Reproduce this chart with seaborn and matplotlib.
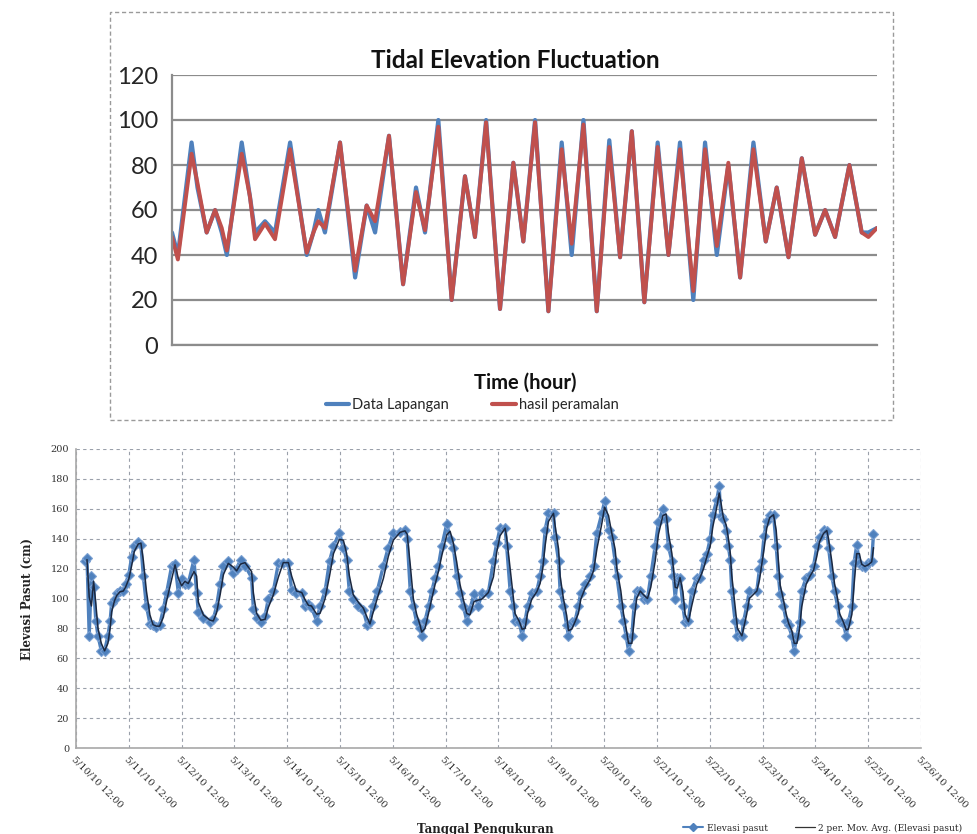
import numpy as np
import pandas as pd
import seaborn as sns
import matplotlib.pyplot as plt
from matplotlib.patches import Rectangle
from matplotlib.lines import Line2D

sns.set_theme(style="white")
plt.rcParams['font.family'] = ['DejaVu Sans']

# ---------------- Top chart data (hours, elevation) ----------------
top_hours = [0, 3, 10, 13, 17.7, 22, 25.4, 28, 35.6, 39.8, 42.4, 47.5, 52.6, 60.3,
             68.8, 72.2, 74.7, 78.1, 85.8, 93.5, 99.4, 103.7, 110.8, 118, 124.6,
             129.2, 136, 142.8, 149.6, 154.7, 160.4, 167.5, 174.3, 179.4, 185.4,
             192.2, 199, 204.1, 210.1, 216.9, 223.3, 228.8, 234.8, 241.2, 248,
             253.5, 259.4, 266.2, 272.2, 278.2, 284.1, 290.1, 296.9, 303.2, 308.8,
             314.8, 321.6, 328.4, 333.5, 338.6, 345.9, 352.2, 355.6, 360]
data_lapangan = [50, 40, 90, 70, 50, 60, 50, 40, 90, 66, 50, 55, 50, 90,
                 40, 50, 60, 50, 90, 30, 62, 50, 93, 27, 70,
                 50, 100, 20, 75, 48, 100, 16, 81, 46, 100,
                 15, 90, 40, 100, 15, 91, 39, 95, 19, 90,
                 40, 90, 20, 90, 40, 80, 30, 90, 46, 70,
                 39, 83, 49, 60, 48, 80, 50, 50, 52]
hasil_peramalan = [48, 38, 85, 72, 50, 60, 52, 42, 85, 66, 47, 54, 47, 87,
                   41, 50, 55, 52, 90, 33, 62, 55, 93, 27, 68,
                   51, 97, 20, 75, 48, 99, 16, 81, 46, 99,
                   15, 87, 45, 98, 15, 88, 39, 95, 19, 88,
                   40, 87, 24, 87, 44, 81, 30, 87, 46, 70,
                   39, 83, 49, 60, 48, 80, 50, 48, 52]

# ---------------- Bottom chart data (hours from 5/10/10 12:00) ----------------
bot_hours = [4, 5, 6, 7, 8, 9, 10, 11.5, 13, 14.5, 15.5, 16.2, 17.5, 18.5, 20, 21.5,
             22.5, 24, 25.3, 26.5, 28.3, 29.5, 30.6, 32, 33.6, 35, 36.5, 38, 39.7,
             41.2, 43.5, 45, 46.5, 48, 49.5, 51, 53.6, 54.8, 55.6, 57.9, 60.9, 62.4,
             63.9, 65.5, 67, 69.2, 71.5, 73, 74.8, 76.8, 79.8, 80.6, 82.1, 84, 85.9,
             87.4, 89.7, 92, 94.2, 96.5, 98, 100.2, 102.6, 104, 105.6, 107, 109.4,
             110.9, 113.2, 115.2, 117, 119.7, 121.5, 123, 124.2, 126, 128.3, 130.6,
             132.4, 133.6, 134.8, 136.9, 139.7, 141.9, 144.2, 147.3, 149.5, 150.5,
             151.9, 153.3, 154.8, 156.4, 157.1, 158.6, 160.2, 161.7, 163.2, 164.7,
             166.2, 168.5, 170, 171.5, 173, 174.5, 176, 177.6, 179, 180.9, 182.9,
             184.4, 187.4, 189.7, 191.2, 192.7, 195, 195.7, 197.3, 198.8, 199.5,
             201.5, 202.7, 204.1, 205.2, 207.1, 209.4, 210.9, 212.1, 213.2, 214.7,
             217, 217.7, 219.3, 220, 221.5, 223, 223.8, 225.3, 226.8, 228.3, 229.4,
             231.4, 233.6, 235.2, 236.7, 239, 240.2, 242, 243.5, 245, 245.8, 247.6,
             248.8, 250, 251.1, 252.6, 253.6, 254.8, 256.4, 257.9, 259.7, 261.2,
             263.2, 264.7, 266.7, 268.2, 269.2, 270.8, 271.5, 272.3, 273.3, 274.5,
             275.8, 276.8, 278.3, 279.8, 282.1, 283.6, 285.2, 286.7, 288.2, 289.4,
             291.2, 292.3, 293, 294.2, 295.5, 296.5, 297.3, 298, 299.5, 300.6, 302.6,
             303.3, 304.8, 306, 309.4, 310.6, 311.6, 312.7, 313.9, 315.2, 317, 318.2,
             319.2, 320, 321.5, 322.7, 323.8, 325.3, 326.4, 327.6, 328.8, 329.8,
             331.8, 333.6, 335.2, 336.7, 337.9, 339.7, 341.2, 342, 343.5, 344.7,
             346.1, 347, 348.8, 350, 351, 352.6, 353.6, 354.8, 356, 357, 358.5, 360,
             361.6, 362.4]
elevasi_pasut = [125, 127, 75, 115, 108, 85, 75, 65, 65, 75, 85, 97, 100, 104, 105, 105,
                 110, 116, 128, 135, 138, 136, 115, 95, 83, 82, 81, 82, 93,
                 104, 122, 123, 104, 113, 110, 110, 126, 104, 91, 87, 84, 86,
                 95, 110, 122, 125, 117, 120, 126, 122, 114, 93, 87, 84, 88,
                 100, 105, 124, 124, 124, 106, 104, 104, 95, 96, 94, 85,
                 95, 105, 125, 135, 144, 134, 126, 105, 100, 95, 92,
                 82, 84, 95, 105, 122, 134, 144, 144.5, 146, 140,
                 105, 95, 84, 80, 75, 85, 95, 105, 114, 122,
                 135, 150, 140, 134, 115, 104, 95, 85, 93, 103, 95,
                 104, 104, 125, 137, 147, 147, 135, 105, 95, 85,
                 84, 75, 85, 95, 104, 105, 115, 125, 146, 157,
                 157, 141, 125, 105, 95, 82, 75, 84, 85, 95, 104,
                 110, 115, 122, 144, 157, 165, 146, 141, 125, 115, 95,
                 85, 75, 65, 75, 95, 105, 105, 100, 100, 115,
                 135, 151, 160, 153, 135, 125, 115, 100, 114, 114,
                 95, 84, 85, 105, 114, 114, 126, 130, 140, 156,
                 166, 175, 155, 153, 145, 135, 126, 105, 85, 75, 75,
                 84, 95, 105, 105, 120, 125, 142, 152, 156, 156, 135,
                 115, 103, 95, 85, 82, 75, 65, 75, 84, 105,
                 114, 116, 122, 135, 141, 146, 145, 134, 115, 105,
                 95, 85, 83, 75, 84, 95, 124, 136, 124, 122, 121, 124,
                 125, 143]
date_labels = ["5/%d/10 12:00" % d for d in range(10, 27)]

top_df = pd.DataFrame({"hour": top_hours, "Data Lapangan": data_lapangan,
                       "hasil peramalan": hasil_peramalan})
bot_df = pd.DataFrame({"hour": bot_hours, "Elevasi pasut": elevasi_pasut})
bot_df["ma"] = bot_df["Elevasi pasut"].rolling(2).mean()

W, H = 977, 834
fig = plt.figure(figsize=(W / 100, H / 100), dpi=100)
fig.patch.set_facecolor("white")

# dashed frame of the top chart
fig.patches.append(Rectangle((110 / W, 1 - 420 / H), (893 - 110) / W, (420 - 12) / H,
                             transform=fig.transFigure, fill=False, edgecolor="#9a9a9a",
                             linewidth=1.0, linestyle=(0, (3, 2))))

# ---------------- Top chart ----------------
ax1 = fig.add_axes([172 / W, 1 - 345 / H, 705 / W, 270 / H])
sns.lineplot(data=top_df, x="hour", y="Data Lapangan", ax=ax1, color="#4F81BD",
             linewidth=3.0, estimator=None, label="Data Lapangan",
             solid_joinstyle="round", solid_capstyle="round")
sns.lineplot(data=top_df, x="hour", y="hasil peramalan", ax=ax1, color="#C0504D",
             linewidth=2.8, estimator=None, label="hasil peramalan",
             solid_joinstyle="round", solid_capstyle="round")
ax1.set_xlim(0, 360)
ax1.set_ylim(0, 120)
ax1.set_yticks(range(0, 121, 20))
ax1.set_xticks([])
ax1.grid(axis="y", color="#8c8c8c", linewidth=1.6)
ax1.set_axisbelow(True)
for s in ["top", "right"]:
    ax1.spines[s].set_visible(False)
for s in ["left", "bottom"]:
    ax1.spines[s].set_color("#8c8c8c")
    ax1.spines[s].set_linewidth(1.6)
ax1.tick_params(axis="y", length=6, color="#8c8c8c", width=1.4, labelsize=17, pad=4)
for t in ax1.get_yticklabels():
    t.set_family("Lato")
ax1.set_xlabel("")
ax1.set_ylabel("")
ax1.legend_.remove()
fig.text(515 / W, 1 - 60 / H, "Tidal Elevation Fluctuation", ha="center", va="center",
         fontsize=17.5, family="Lato", fontweight="bold", color="#111111")
fig.text(525 / W, 1 - 383 / H, "Time (hour)", ha="center", va="center",
         fontsize=14.5, family="Lato", fontweight="bold", color="#111111")
h1 = [Line2D([], [], color="#4F81BD", linewidth=3), Line2D([], [], color="#C0504D", linewidth=3)]
fig.legend(h1, ["Data Lapangan", "hasil peramalan"], loc="center", ncol=2, frameon=False,
           bbox_to_anchor=(472 / W, 1 - 405 / H), prop={"family": "Lato", "size": 10.5},
           handlelength=1.6, handletextpad=0.2, columnspacing=3.0)

# ---------------- Bottom chart ----------------
ax2 = fig.add_axes([76 / W, 1 - 748 / H, 845 / W, 299 / H])
sns.lineplot(data=bot_df, x="hour", y="Elevasi pasut", ax=ax2, color="#4F81BD",
             linewidth=2.4, marker="D", markersize=4.8, markeredgecolor="#7aa0d2",
             markeredgewidth=0.8, estimator=None, sort=False)
sns.lineplot(data=bot_df, x="hour", y="ma", ax=ax2, color="#1b2840", linewidth=1.1,
             estimator=None, sort=False)
ax2.set_xlim(0, 384)
ax2.set_ylim(0, 200)
ax2.set_yticks(range(0, 201, 20))
ax2.set_xticks(np.arange(0, 385, 24))
ax2.set_xticklabels(date_labels, rotation=-45, ha="left", va="top",
                    rotation_mode="anchor")
ax2.grid(True, color="#9aa0aa", linewidth=0.8, linestyle=(0, (3, 3)))
ax2.set_axisbelow(True)
for s in ["top", "right"]:
    ax2.spines[s].set_visible(False)
for s in ["left", "bottom"]:
    ax2.spines[s].set_color("#a8a8a8")
    ax2.spines[s].set_linewidth(1.2)
ax2.tick_params(axis="both", length=0, labelsize=7, colors="#333333", pad=5)
for t in ax2.get_xticklabels() + ax2.get_yticklabels():
    t.set_family("DejaVu Serif")
ax2.set_xlabel("")
ax2.set_ylabel("Elevasi Pasut (cm)", family="DejaVu Serif", fontweight="bold",
               fontsize=8.5, color="#222222", labelpad=12)
fig.text(485 / W, 1 - 829 / H, "Tanggal Pengukuran", ha="center", va="center",
         fontsize=8.5, family="DejaVu Serif", fontweight="bold", color="#222222")
h2 = [Line2D([], [], color="#4F81BD", linewidth=1.5, marker="D", markersize=4),
      Line2D([], [], color="#333333", linewidth=0.9)]
fig.legend(h2, ["Elevasi pasut", "2 per. Mov. Avg. (Elevasi pasut)"], loc="center left",
           ncol=2, frameon=False, bbox_to_anchor=(675 / W, 1 - 828 / H),
           prop={"family": "DejaVu Serif", "size": 6.5}, handlelength=2.2,
           handletextpad=0.4, columnspacing=3.0)

fig.savefig("out.png", dpi=100)
